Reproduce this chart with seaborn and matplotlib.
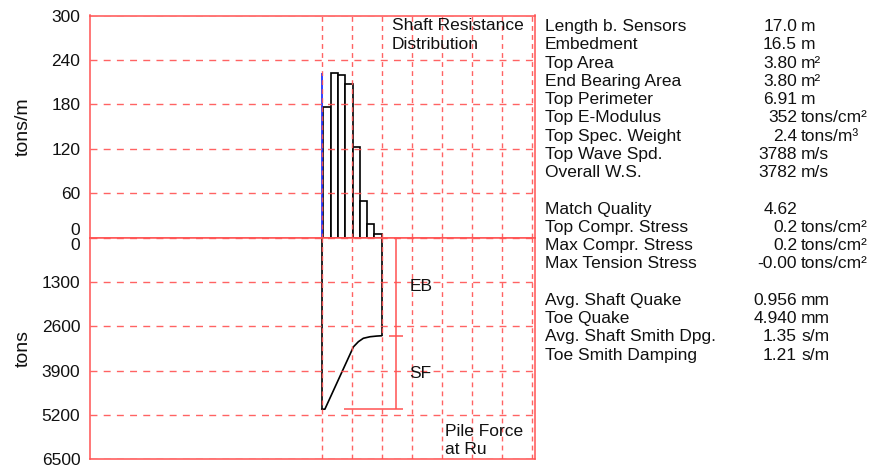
import numpy as np
import pandas as pd
import matplotlib
matplotlib.use("Agg")
import matplotlib.pyplot as plt
import seaborn as sns

# ---------------- data ----------------
pile_length = 17.0          # m, length below sensors
embedment = 16.5            # m
shaft_resistance = [177, 222, 219, 207, 123, 50, 19, 5]      # tons/m per segment
curve_depth = [0.0, 0.9, 9.0, 10.4, 11.8, 13.7, 15.6, 17.0]  # m
curve_force = [5030, 5030, 3200, 3050, 2950, 2905, 2885, 2876]  # tons
top_ticks = [0, 60, 120, 180, 240, 300]
bottom_ticks = [0, 1300, 2600, 3900, 5200, 6500]

info_labels = ["Length b. Sensors", "Embedment", "Top Area", "End Bearing Area",
               "Top Perimeter", "Top E-Modulus", "Top Spec. Weight", "Top Wave Spd.",
               "Overall W.S.", "",
               "Match Quality", "Top Compr. Stress", "Max Compr. Stress",
               "Max Tension Stress", "",
               "Avg. Shaft Quake", "Toe Quake", "Avg. Shaft Smith Dpg.",
               "Toe Smith Damping"]
info_values = ["17.0", "16.5", "3.80", "3.80", "6.91", "352", "2.4", "3788", "3782", "",
               "4.62", "0.2", "0.2", "-0.00", "",
               "0.956", "4.940", "1.35", "1.21"]
info_units = ["m", "m", "m\u00b2", "m\u00b2", "m", "tons/cm\u00b2", "tons/m\u00b3", "m/s", "m/s", "",
              "", "tons/cm\u00b2", "tons/cm\u00b2", "tons/cm\u00b2", "",
              "mm", "mm", "s/m", "s/m"]

# ---------------- style ----------------
sns.set_theme(style="white")
plt.rcParams["font.family"] = ["Liberation Sans", "DejaVu Sans"]
RED = "#ff5252"
TXT = "#111111"
FS = 12.5

W, H = 872, 470
fig = plt.figure(figsize=(W / 100, H / 100), dpi=100)

L, R = 90.0, 535.0
T, M, B = 15.5, 237.7, 459.3
ax_top = fig.add_axes([L / W, 1 - M / H, (R - L) / W, (M - T) / H])
ax_bot = fig.add_axes([L / W, 1 - B / H, (R - L) / W, (B - M) / H])

px_per_m = 30.0 / 8.5
x_left = -(321.7 - L) / px_per_m
x_right = (R - 321.7) / px_per_m
grid_x = np.arange(0, x_right, 8.5)

for ax in (ax_top, ax_bot):
    ax.set_facecolor("white")

# ---- top: shaft resistance distribution ----
seg_w = embedment / len(shaft_resistance)
start = pile_length - embedment
mids = start + seg_w * (np.arange(len(shaft_resistance)) + 0.5)
bars_df = pd.DataFrame({"depth": mids, "resistance": shaft_resistance})
sns.histplot(data=bars_df, x="depth", weights="resistance", binwidth=seg_w,
             binrange=(start, pile_length), ax=ax_top,
             color="white", edgecolor="black", linewidth=1.2, alpha=1.0,
             element="bars", fill=True, zorder=1)
ax_top.vlines(0, 0, max(shaft_resistance), color="#2233ff", linewidth=1.3, zorder=2)

# ---- bottom: pile force at Ru ----
force_df = pd.DataFrame({"depth": curve_depth, "force": curve_force})
sns.lineplot(data=force_df, x="depth", y="force", ax=ax_bot, color="black", linewidth=1.2,
             sort=False, estimator=None, zorder=2)
ax_bot.vlines(curve_depth[0], 0, curve_force[0], color="black", linewidth=1.2, zorder=2)
ax_bot.vlines(curve_depth[-1], 0, curve_force[-1], color="black", linewidth=1.2, zorder=2)

for ax in (ax_top, ax_bot):
    ax.set_xlim(x_left, x_right)
    ax.set_xticks(grid_x)
    ax.set_xticklabels([])
    ax.set_xlabel("")
    ax.tick_params(axis="both", length=0, pad=7, labelsize=FS, labelcolor=TXT)
    for sp in ax.spines.values():
        sp.set_color(RED)
        sp.set_linewidth(1.1)
        sp.set_visible(True)
        sp.set_zorder(4)
    ax.set_axisbelow(False)
    ax.xaxis.grid(True, color=RED, linewidth=1.0, linestyle=(0, (3.5, 3.0)), alpha=0.9)
    ax.yaxis.grid(True, color=RED, linewidth=1.0, linestyle=(0, (5.0, 4.5)), alpha=0.9)

ax_top.set_ylim(top_ticks[0], top_ticks[-1])
ax_top.set_yticks(top_ticks)
ax_top.set_yticklabels([str(t) for t in top_ticks])
ax_top.get_yticklabels()[0].set_verticalalignment("bottom")
ax_top.set_ylabel("tons/m", fontsize=14, color=TXT)
ax_top.yaxis.set_label_coords(-0.13, 0.5)
ax_top.text((392 - L) / (R - L), 0.953, "Shaft Resistance", transform=ax_top.transAxes,
            fontsize=FS, color=TXT, va="center", ha="left", zorder=6)
ax_top.text((392 - L) / (R - L), 0.870, "Distribution", transform=ax_top.transAxes,
            fontsize=FS, color=TXT, va="center", ha="left", zorder=6)

ax_bot.set_ylim(bottom_ticks[-1], bottom_ticks[0])
ax_bot.set_yticks(bottom_ticks)
ax_bot.set_yticklabels([str(t) for t in bottom_ticks])
ax_bot.get_yticklabels()[0].set_verticalalignment("top")
ax_bot.set_ylabel("tons", fontsize=14, color=TXT)
ax_bot.yaxis.set_label_coords(-0.13, 0.5)

# EB / SF bracket
bx = (396 - 321.7) / px_per_m
ax_bot.vlines(bx, 0, curve_force[0], color=RED, linewidth=1.1, zorder=4)
ax_bot.hlines(curve_force[0], (344.3 - 321.7) / px_per_m, (403.3 - 321.7) / px_per_m,
              color=RED, linewidth=1.1, zorder=4)
ax_bot.hlines(curve_force[-1], (389.3 - 321.7) / px_per_m, (403.3 - 321.7) / px_per_m,
              color=RED, linewidth=1.1, zorder=4)
tx = (409.5 - L) / (R - L)
ax_bot.text(tx, 1 - (286.7 - M) / (B - M), "EB", transform=ax_bot.transAxes,
            fontsize=FS, color=TXT, va="center", ha="left", zorder=6)
ax_bot.text(tx, 1 - (373.3 - M) / (B - M), "SF", transform=ax_bot.transAxes,
            fontsize=FS, color=TXT, va="center", ha="left", zorder=6)
px = (445 - L) / (R - L)
ax_bot.text(px, 1 - (431.7 - M) / (B - M), "Pile Force", transform=ax_bot.transAxes,
            fontsize=FS, color=TXT, va="center", ha="left", zorder=6)
ax_bot.text(px, 1 - (449.5 - M) / (B - M), "at Ru", transform=ax_bot.transAxes,
            fontsize=FS, color=TXT, va="center", ha="left", zorder=6)

# ---- info panel ----
y0, dy = 26.6, 18.25
for i, (lab, val, unit) in enumerate(zip(info_labels, info_values, info_units)):
    if not lab:
        continue
    yy = 1 - (y0 + i * dy) / H
    fig.text(545 / W, yy, lab, fontsize=FS, color=TXT, va="center", ha="left")
    fig.text(797 / W, yy, val, fontsize=FS, color=TXT, va="center", ha="right")
    if unit:
        fig.text(801 / W, yy, unit, fontsize=FS, color=TXT, va="center", ha="left")

fig.savefig("out.png", dpi=100, facecolor="white")
